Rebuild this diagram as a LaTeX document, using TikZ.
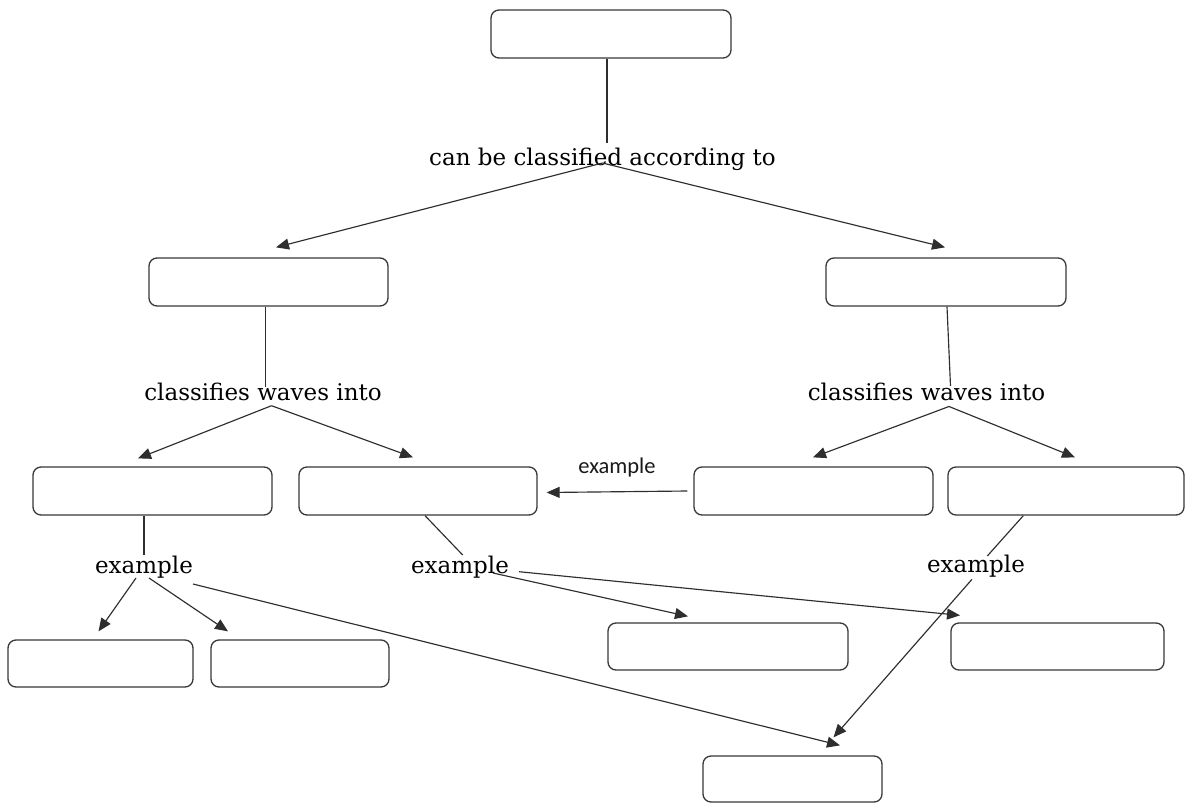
\documentclass[tikz,border=0pt]{standalone}
\usepackage{fontspec}
\newfontfamily\labserif{DejaVu Serif}
\newfontfamily\labsans{Carlito}
\usetikzlibrary{arrows.meta,calc}
\tikzset{
  cbox/.style={draw=black!78, line width=1.3pt, rounded corners=8pt, fill=white, inner sep=0pt},
  lab/.style={inner sep=0pt, anchor=base, font=\labserif\fontsize{23}{27}\selectfont, text=black},
  slab/.style={inner sep=0pt, anchor=base, font=\labsans\fontsize{22.5}{26}\selectfont, text=black!90},
  conn/.style={draw=black!82, line width=1.15pt},
  arr/.style={conn, -{Triangle[length=13pt,width=11pt]}}
}
\begin{document}
\begin{tikzpicture}[x=1pt,y=-1pt]
\useasboundingbox[fill=white] (0,0) rectangle (1186,803);
% boxes
\node[cbox, minimum width=240pt, minimum height=48pt] (top) at (611,34) {};
\node[cbox, minimum width=239pt, minimum height=48pt] (L) at (268.5,282) {};
\node[cbox, minimum width=240pt, minimum height=48pt] (R) at (946,282) {};
\node[cbox, minimum width=239pt, minimum height=48pt] (A) at (152.5,491) {};
\node[cbox, minimum width=238pt, minimum height=48pt] (B) at (418,491) {};
\node[cbox, minimum width=239pt, minimum height=48pt] (C) at (813.5,491) {};
\node[cbox, minimum width=236pt, minimum height=48pt] (D) at (1066,491) {};
\node[cbox, minimum width=185pt, minimum height=47pt] (E) at (100.5,663.5) {};
\node[cbox, minimum width=178pt, minimum height=47pt] (F) at (300,663.5) {};
\node[cbox, minimum width=240pt, minimum height=47pt] (G) at (728,646.5) {};
\node[cbox, minimum width=213pt, minimum height=47pt] (H) at (1057.5,646.5) {};
\node[cbox, minimum width=179pt, minimum height=46pt] (I) at (792.5,779) {};
% labels
\node[lab] (lab1) at (602.5,165) {can be classified according to};
\node[lab] (labL) at (263,400.7) {classifies waves into};
\node[lab] (labR) at (926.5,400) {classifies waves into};
\node[lab] (exA) at (144,573) {example};
\node[lab] (exB) at (460,573) {example};
\node[lab] (exD) at (976,572) {example};
\node[slab] (exC) at (617,473) {example};
% connectors
\draw[conn] ($(top.south)+(-4,0)$) -- ($(lab1.base)+(4.5,-22)$);
\draw[arr] ($(lab1.base)+(0,-2)$) -- ($(L.north)+(7.5,-10)$);
\draw[arr] ($(lab1.base)+(0,-2)$) -- ($(R.north)+(-1,-10)$);
\draw[conn] ($(L.south)+(-3,0)$) -- ($(labL.base)+(2.5,-14)$);
\draw[arr] ($(labL.base)+(8.5,5)$) -- ($(A.north)+(-14.5,-8)$);
\draw[arr] ($(labL.base)+(8.5,5)$) -- ($(B.north)+(-5,-9)$);
\draw[conn] ($(R.south)+(1,0)$) -- ($(labR.base)+(24,-14)$);
\draw[arr] ($(labR.base)+(22.5,6.5)$) -- ($(C.north)+(-0.5,-9)$);
\draw[arr] ($(labR.base)+(22.5,6.5)$) -- ($(D.north)+(9,-9)$);
\draw[arr] ($(C.west)+(-6,0)$) -- ($(B.east)+(9,1.5)$);
\draw[conn] ($(A.south)+(-8.5,0)$) -- ($(exA.base)+(0,-18)$);
\draw[arr] ($(exA.base)+(-8,5)$) -- ($(E.north)+(-2,-8)$);
\draw[arr] ($(exA.base)+(5,5)$) -- ($(F.north)+(-72,-8)$);
\draw[arr] ($(exA.base)+(49,11)$) -- ($(I.north)+(47.5,-10)$);
\draw[conn] ($(B.south)+(7,0)$) -- ($(exB.base)+(2.7,-18)$);
\draw[arr] ($(exB.base)+(33,0)$) -- ($(G.north)+(-40,-6)$);
\draw[arr] ($(exB.base)+(59,-1.3)$) -- ($(H.north)+(-97.5,-7)$);
\draw[conn] ($(D.south)+(-42.7,0)$) -- ($(exD.base)+(11.3,-16)$);
\draw[arr] ($(exD.base)+(-4,7.3)$) -- ($(I.north)+(41,-18)$);
\end{tikzpicture}
\end{document}
